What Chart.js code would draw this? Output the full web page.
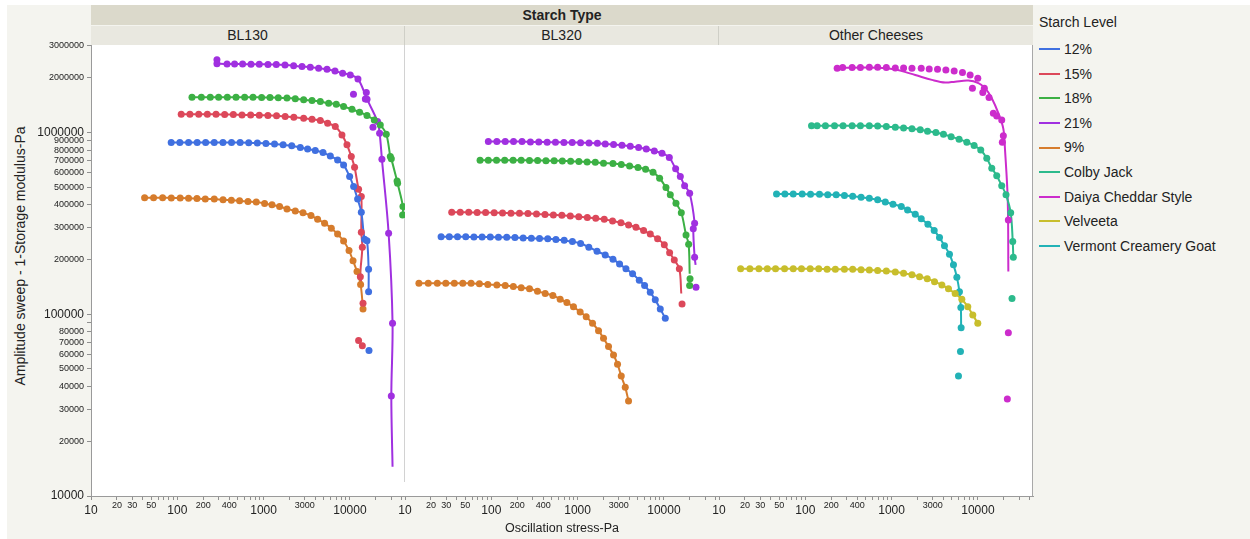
<!DOCTYPE html>
<html>
<head>
<meta charset="utf-8">
<script src="https://cdn.jsdelivr.net/npm/chart.js@4.4.1/dist/chart.umd.min.js"></script>
<style>
  body { margin: 0; background: #fff; font-family: 'Liberation Sans', Arial, sans-serif; color: #222; }
  .abs { position: absolute; }
  #frame { left: 7px; top: 5px; width: 1243px; height: 534px; background: #F4F4EF; }
  .band { text-align: center; font-size: 14px; }
  #top { left: 91px; top: 5px; width: 942px; height: 20px; line-height: 20px; background: #DBD9CB; font-weight: bold; }
  .sub { top: 26px; height: 19px; line-height: 19px; background: #E9E8E0; }
  #ytitle { left: -180px; top: 248px; width: 400px; height: 16px; line-height: 16px; text-align: center; font-size: 14px; transform: rotate(-90deg); }
  #legend { left: 1039px; top: 12px; font-size: 14px; }
  #legend .ttl { height: 21px; line-height: 21px; margin-bottom: 4px; }
  #legend .it { height: 24.6px; line-height: 24.6px; white-space: nowrap; }
  #legend .ln { display: inline-block; width: 21px; height: 2px; vertical-align: middle; margin-right: 4px; position: relative; top: -1px; }
  canvas { position: absolute; left: 0; top: 0; }
</style>
</head>
<body>
<div id="frame" class="abs"></div>
<div id="top" class="abs band">Starch Type</div>
<div class="abs band sub" style="left:91px;width:313px;border-right:1px solid #CFCFC7">BL130</div>
<div class="abs band sub" style="left:405px;width:313px;border-right:1px solid #CFCFC7">BL320</div>
<div class="abs band sub" style="left:719px;width:314px">Other Cheeses</div>
<div id="ytitle" class="abs">Amplitude sweep - 1-Storage modulus-Pa</div>
<div id="legend" class="abs"></div>
<canvas id="chart" width="1250" height="539"></canvas>
<script>
// axes
const yTickVals = [10000, 20000, 30000, 40000, 50000, 60000, 70000, 80000, 90000, 100000, 200000, 300000, 400000, 500000, 600000, 700000, 800000, 900000, 1000000, 2000000, 3000000];
const yTickShown = [10000, 20000, 30000, 40000, 50000, 60000, 70000, 80000, 100000, 200000, 300000, 400000, 500000, 600000, 700000, 800000, 900000, 1000000, 2000000, 3000000];
const xTickVals = [10, 20, 30, 40, 50, 60, 70, 80, 90, 100, 200, 300, 400, 500, 600, 700, 800, 900, 1000, 2000, 3000, 4000, 5000, 6000, 7000, 8000, 9000, 10000, 20000, 30000, 40000];
const xTickShown = [10, 20, 30, 50, 100, 200, 400, 1000, 3000, 10000];
const bigTicks = [10, 100, 1000, 10000, 100000, 1000000];

const panels = ['BL130', 'BL320', 'Other Cheeses'];
const levels = ['12%', '15%', '18%', '21%', '9%', 'Colby Jack', 'Daiya Cheddar Style', 'Velveeta', 'Vermont Creamery Goat'];
const colors = ['#4070E0', '#DC485A', '#3CB044', '#A030E0', '#D67C2C', '#2CBA8C', '#CC2CCC', '#C8BE2C', '#22B2B6'];

// BL130
const bl130_12_x = [85, 107, 135, 170, 213, 268, 338, 425, 535, 672, 846, 1065, 1338, 1684, 2119, 2662, 3236, 3970, 4880, 5930, 7200, 8450, 9930, 11050, 12290, 13560, 14800, 15780, 16470, 16470, 16640];
const bl130_12_y = [880000, 880000, 880000, 880000, 880000, 880000, 880000, 880000, 880000, 878000, 875000, 870000, 865000, 855000, 845000, 826000, 812000, 795000, 775000, 743000, 706000, 663000, 572000, 504000, 430000, 364000, 259000, 254000, 177000, 133000, 63100];
const bl130_15_x = [111, 140, 177, 223, 281, 354, 446, 562, 708, 891, 1122, 1413, 1778, 2239, 2911, 3640, 4540, 5520, 6770, 8090, 9250, 10380, 11330, 12610, 13560, 13560, 13930, 13210, 14190, 12610, 13930];
const bl130_15_y = [1261000, 1261000, 1261000, 1261000, 1261000, 1255000, 1255000, 1250000, 1250000, 1245000, 1240000, 1235000, 1225000, 1215000, 1198000, 1183000, 1163000, 1125000, 1078000, 970000, 855000, 737000, 644000, 488000, 444000, 283000, 234000, 161000, 115000, 71600, 67200];
const bl130_18_x = [148, 190, 241, 301, 380, 479, 603, 754, 948, 1186, 1480, 1865, 2328, 2911, 3640, 4540, 5670, 6950, 8450, 10570, 12950, 15770, 19170, 22500, 26400, 29400, 30200, 35200, 35700, 41200, 40800];
const bl130_18_y = [1564000, 1564000, 1564000, 1564000, 1564000, 1564000, 1562000, 1562000, 1560000, 1558000, 1555000, 1548000, 1535000, 1512000, 1500000, 1479000, 1449000, 1431000, 1389000, 1343000, 1294000, 1239000, 1173000, 1101000, 979000, 737000, 716000, 541000, 526000, 391000, 352000];
const bl130_21_x = [288, 288, 377, 461, 571, 715, 891, 1124, 1403, 1770, 2228, 2786, 3475, 4340, 5430, 6720, 8230, 10100, 12400, 11000, 15500, 15100, 15800, 18500, 20900, 22100, 23500, 28100, 31200, 30200];
const bl130_21_y = [2510000, 2390000, 2380000, 2380000, 2380000, 2375000, 2375000, 2370000, 2365000, 2350000, 2330000, 2306000, 2288000, 2260000, 2230000, 2180000, 2120000, 2075000, 1972000, 1625000, 1658000, 1530000, 1525000, 1070000, 1148000, 991000, 713000, 279000, 89200, 35500];
const bl130_9_x = [41.8, 53.1, 67.6, 85.2, 108, 135, 169, 211, 268, 339, 423, 527, 659, 822, 1027, 1251, 1532, 1866, 2328, 2862, 3542, 4225, 5090, 6090, 7200, 8450, 9770, 10870, 12090, 13300, 14190];
const bl130_9_y = [438000, 438000, 438000, 436000, 436000, 435000, 433000, 431000, 430000, 426000, 424000, 421000, 417000, 414000, 407000, 400000, 392000, 380000, 370000, 362000, 349000, 333000, 317000, 297000, 276000, 253000, 224000, 197000, 172000, 146000, 107000];

// BL320
const bl320_12_x = [26.2, 32.6, 40.6, 50.6, 62.9, 78.2, 97.3, 121, 151, 188, 234, 291, 362, 451, 561, 699, 870, 1083, 1349, 1679, 2090, 2568, 3064, 3633, 4335, 5184, 5976, 6955, 7945, 9080, 10380];
const bl320_12_y = [267000, 267000, 267000, 267000, 266000, 266000, 266000, 265000, 265000, 264000, 263000, 262000, 261000, 260000, 258000, 255000, 251000, 245000, 234000, 222000, 212000, 201000, 189000, 178000, 167000, 154000, 144000, 132000, 120000, 107000, 95000];
const bl320_15_x = [34.8, 43.7, 54.7, 68.6, 85.9, 108, 135, 169, 212, 266, 334, 419, 524, 657, 823, 1032, 1296, 1623, 2036, 2541, 3179, 3896, 4748, 5815, 6955, 8450, 10110, 11650, 13200, 15100, 16230];
const bl320_15_y = [364000, 364000, 364000, 363000, 363000, 362000, 361000, 360000, 359000, 358000, 356000, 354000, 352000, 350000, 347000, 344000, 341000, 337000, 333000, 326000, 319000, 310000, 301000, 289000, 276000, 260000, 241000, 218000, 199000, 178000, 114000];
const bl320_18_x = [74.1, 92.3, 115, 143, 179, 222, 277, 344, 430, 535, 666, 830, 1035, 1289, 1604, 1996, 2568, 3208, 4003, 5010, 6140, 7480, 8920, 10570, 11860, 13800, 15910, 18050, 19350, 20080, 19870];
const bl320_18_y = [704000, 704000, 704000, 704000, 704000, 704000, 702000, 702000, 700000, 700000, 698000, 695000, 692000, 689000, 685000, 678000, 675000, 666000, 655000, 641000, 628000, 605000, 560000, 498000, 454000, 408000, 362000, 273000, 243000, 157000, 144000];
const bl320_21_x = [92.4, 116, 145, 181, 227, 284, 355, 444, 554, 694, 866, 1083, 1356, 1697, 2091, 2611, 3268, 4077, 5090, 6250, 7740, 9510, 11560, 13680, 15500, 17380, 19870, 22700, 21900, 22700, 23550];
const bl320_21_y = [891000, 891000, 891000, 891000, 891000, 888000, 888000, 885000, 885000, 882000, 882000, 879000, 876000, 872000, 865000, 858000, 851000, 841000, 826000, 812000, 792000, 769000, 728000, 631000, 572000, 510000, 463000, 317000, 295000, 206000, 141000];
const bl320_9_x = [14.5, 18.6, 23.7, 29.7, 37.3, 46.7, 58.3, 72.8, 91.1, 116, 145, 180, 222, 277, 343, 421, 517, 628, 751, 896, 1071, 1258, 1489, 1748, 1997, 2282, 2608, 2902, 3205, 3566, 3894];
const bl320_9_y = [148000, 148000, 148000, 148000, 148000, 148000, 148000, 147000, 146000, 145000, 144000, 142000, 140000, 138000, 134000, 130000, 127000, 121000, 116000, 110000, 103000, 97000, 89200, 81200, 73800, 66400, 59700, 53100, 45700, 39600, 33300];

// Other Cheeses
const colby_x = [118, 137, 171, 218, 274, 349, 435, 552, 689, 869, 1104, 1377, 1722, 2148, 2608, 3260, 3990, 4895, 6055, 7440, 9040, 10790, 12670, 14480, 16530, 18890, 21180, 23990, 25330, 25730, 24850];
const colby_y = [1091000, 1091000, 1091000, 1091000, 1091000, 1089000, 1089000, 1089000, 1085000, 1078000, 1069000, 1060000, 1050000, 1034000, 1016000, 999000, 979000, 949000, 918000, 885000, 847000, 802000, 722000, 636000, 579000, 510000, 454000, 362000, 251000, 206000, 122000];
const daiya_x = [234, 271, 349, 435, 552, 689, 869, 1104, 1377, 1722, 2205, 2728, 3404, 4256, 5310, 6625, 8130, 9975, 8640, 11880, 11390, 13460, 15100, 16530, 18890, 19720, 19190, 22530, 22530, 21930];
const daiya_y = [2259000, 2276000, 2276000, 2276000, 2288000, 2288000, 2276000, 2267000, 2267000, 2259000, 2259000, 2239000, 2230000, 2210000, 2183000, 2137000, 2075000, 1990000, 1753000, 1753000, 1658000, 1556000, 1277000, 1234000, 1173000, 961000, 885000, 330000, 79200, 34200];
const daiya_fit_x = [234, 689, 1104, 1880, 2930, 4180, 5450, 7760, 10140, 12110, 14480, 17260, 19720, 20620, 22170, 22530];
const daiya_fit_y = [2270000, 2270000, 2220000, 2070000, 1948000, 1882000, 1905000, 1930000, 1868000, 1753000, 1545000, 1277000, 1047000, 802000, 426000, 172000];
const velveeta_x = [17.8, 22.8, 29, 36.3, 45.2, 57.5, 72.5, 90.3, 114, 143, 179, 223, 284, 354, 443, 552, 689, 869, 1104, 1377, 1722, 2108, 2588, 3143, 3826, 4561, 5450, 6513, 7640, 8730, 9975];
const velveeta_y = [178000, 178000, 178000, 178000, 178000, 178000, 178000, 178000, 178000, 178000, 177000, 177000, 177000, 177000, 176000, 175000, 174000, 173000, 171000, 168000, 165000, 161000, 157000, 151000, 145000, 138000, 130000, 121000, 110000, 99100, 89200];
const goat_x = [46.4, 58, 72.5, 92, 115, 146, 182, 228, 284, 354, 443, 552, 689, 845, 1038, 1295, 1531, 1880, 2205, 2634, 3116, 3590, 4100, 4686, 5212, 5706, 6112, 6345, 6393, 6281, 5957];
const goat_y = [459000, 459000, 459000, 459000, 457000, 457000, 455000, 454000, 450000, 446000, 440000, 435000, 426000, 415000, 403000, 391000, 375000, 355000, 335000, 313000, 289000, 264000, 238000, 214000, 187000, 160000, 133000, 109000, 84400, 62300, 45800];

// points left off the smoothed curve, and where the curve runs on past them
const series = [
  { axis: 'x1', level: 0, x: bl130_12_x, y: bl130_12_y, skip: [30] },
  { axis: 'x1', level: 1, x: bl130_15_x, y: bl130_15_y, skip: [28, 29, 30], endX: [14100], endY: [142000] },
  { axis: 'x1', level: 2, x: bl130_18_x, y: bl130_18_y, skip: [] },
  { axis: 'x1', level: 3, x: bl130_21_x, y: bl130_21_y, skip: [0, 19, 20, 21, 23], endX: [31200], endY: [14500] },
  { axis: 'x1', level: 4, x: bl130_9_x, y: bl130_9_y, skip: [] },
  { axis: 'x2', level: 0, x: bl320_12_x, y: bl320_12_y, skip: [] },
  { axis: 'x2', level: 1, x: bl320_15_x, y: bl320_15_y, skip: [30], endX: [15900], endY: [130000] },
  { axis: 'x2', level: 2, x: bl320_18_x, y: bl320_18_y, skip: [29, 30], endX: [19900], endY: [167000] },
  { axis: 'x2', level: 3, x: bl320_21_x, y: bl320_21_y, skip: [30], endX: [23300], endY: [187000] },
  { axis: 'x2', level: 4, x: bl320_9_x, y: bl320_9_y, skip: [] },
  { axis: 'x3', level: 5, x: colby_x, y: colby_y, skip: [30] },
  { axis: 'x3', level: 6, x: daiya_x, y: daiya_y, fitX: daiya_fit_x, fitY: daiya_fit_y },
  { axis: 'x3', level: 7, x: velveeta_x, y: velveeta_y, skip: [] },
  { axis: 'x3', level: 8, x: goat_x, y: goat_y, skip: [29, 30] }
];

const toPts = (xs, ys) => xs.map((v, i) => ({ x: v, y: ys[i] }));

const datasets = [];
series.forEach(s => {
  const col = colors[s.level];
  let line;
  if (s.fitX) {
    line = toPts(s.fitX, s.fitY);
  } else {
    line = toPts(s.x, s.y).filter((p, i) => !s.skip.includes(i));
    if (s.endX) line = line.concat(toPts(s.endX, s.endY));
  }
  datasets.push({
    data: line, xAxisID: s.axis, showLine: true, pointRadius: 0,
    borderColor: col, borderWidth: 2, tension: 0.35, order: 2
  });
  datasets.push({
    data: toPts(s.x, s.y), xAxisID: s.axis, showLine: false,
    pointRadius: 3.5, pointBorderWidth: 0, backgroundColor: col, borderColor: col, order: 1
  });
});

// legend (html)
const legend = document.getElementById('legend');
legend.innerHTML = '<div class="ttl">Starch Level</div>' + levels.map((l, i) =>
  '<div class="it"><span class="ln" style="background:' + colors[i] + '"></span>' + l + '</div>').join('');

Chart.defaults.font.family = "'Liberation Sans', Arial, sans-serif";
Chart.defaults.color = '#222';

const tickFontX = c => (c.tick && bigTicks.includes(c.tick.value)) ? { size: 12 } : { size: 9, lineHeight: 0.6 };
const tickFontY = c => (c.tick && bigTicks.includes(c.tick.value)) ? { size: 12 } : { size: 9 };

function xScale(withTitle) {
  return {
    type: 'logarithmic', position: 'bottom', stack: 'panels', stackWeight: 1,
    min: 10, max: 43500,
    afterBuildTicks: s => { s.ticks = xTickVals.map(v => ({ value: v })); },
    afterFit: s => { s.height = 43; },
    ticks: {
      autoSkip: false, maxRotation: 0, padding: 3, font: tickFontX,
      callback: v => xTickShown.includes(v) ? String(v) : ''
    },
    grid: { drawOnChartArea: false, tickLength: 4, color: '#8f8f8f' },
    border: { color: '#9a9a9a' },
    title: { display: withTitle, text: 'Oscillation stress-Pa', font: { size: 12.5 }, padding: { top: 0, bottom: 3 } }
  };
}

const panelLines = {
  id: 'panelLines',
  beforeDraw(chart) {
    const { ctx, chartArea: a } = chart;
    ctx.save();
    ctx.fillStyle = '#fff';
    ctx.fillRect(a.left, a.top, a.width, a.height);
    const sx = Math.round(chart.scales.x1.right) - 0.5;
    ctx.strokeStyle = '#d2d2d2';
    ctx.lineWidth = 1;
    ctx.beginPath();
    ctx.moveTo(sx, a.top);
    ctx.lineTo(sx, a.bottom - 14);
    ctx.stroke();
    ctx.restore();
  },
  afterDraw(chart) {
    const { ctx, chartArea: a } = chart;
    ctx.save();
    ctx.strokeStyle = '#a8a8a8';
    ctx.lineWidth = 1;
    ctx.beginPath();
    ctx.moveTo(Math.round(a.right) - 0.5, a.top);
    ctx.lineTo(Math.round(a.right) - 0.5, a.bottom);
    ctx.stroke();
    ctx.restore();
  }
};

new Chart(document.getElementById('chart').getContext('2d'), {
  type: 'scatter',
  data: { datasets },
  options: {
    responsive: false,
    animation: false,
    layout: { padding: { top: 45, right: 217, bottom: 0, left: 0 } },
    plugins: { legend: { display: false }, tooltip: { enabled: false } },
    scales: {
      y: {
        type: 'logarithmic', position: 'left', min: 10000, max: 3030000,
        afterBuildTicks: s => { s.ticks = yTickVals.map(v => ({ value: v })); },
        afterFit: s => { s.width = 91; },
        ticks: {
          autoSkip: false, padding: 3, font: tickFontY,
          callback: v => yTickShown.includes(v) ? String(v) : ''
        },
        grid: { drawOnChartArea: false, tickLength: 4, color: '#8f8f8f' },
        border: { color: '#9a9a9a' }
      },
      x1: xScale(false),
      x2: xScale(true),
      x3: xScale(false)
    }
  },
  plugins: [panelLines]
});
</script>
</body>
</html>
